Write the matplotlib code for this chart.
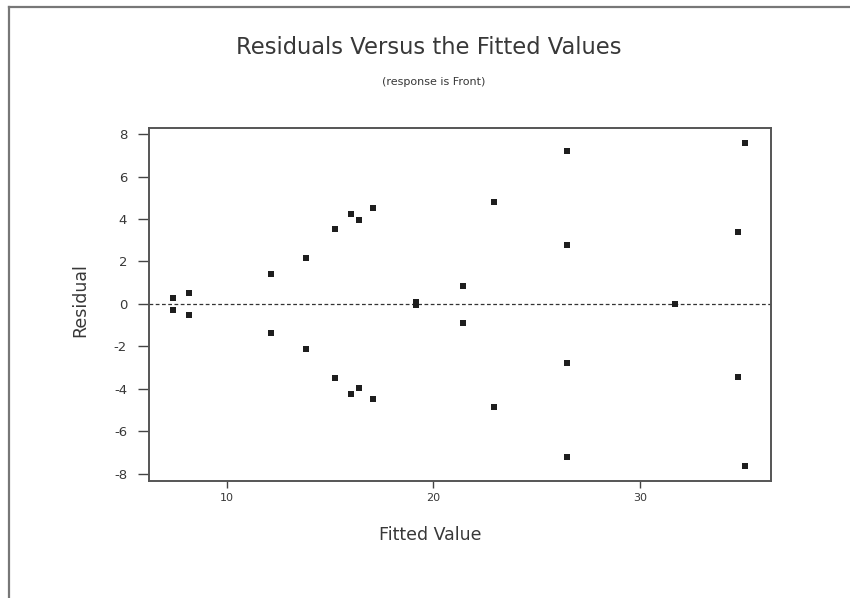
import matplotlib
matplotlib.use("Agg")
import matplotlib.pyplot as plt
from matplotlib.lines import Line2D

# Fitted values and residuals of the regression on "Front"
fitted = [7.42, 7.42, 8.19, 8.19, 12.14, 12.14, 13.84, 13.84,
          15.25, 15.25, 16.01, 16.01, 16.40, 16.40, 17.06, 17.06,
          19.16, 19.16, 21.42, 21.42, 22.95, 22.95, 26.45, 26.45,
          26.48, 26.48, 31.69, 31.69, 34.72, 34.72, 35.09, 35.09]
residual = [0.27, -0.28, 0.53, -0.50, 1.40, -1.38, 2.15, -2.13,
            3.51, -3.50, 4.22, -4.25, 3.95, -3.97, 4.50, -4.47,
            0.07, -0.03, 0.86, -0.91, 4.79, -4.83, 7.20, -7.19,
            2.78, -2.79, 0.02, -0.02, 3.37, -3.42, 7.56, -7.62]

x_ticks = [10, 20, 30]
y_ticks = [-8, -6, -4, -2, 0, 2, 4, 6, 8]

title = "Residuals Versus the Fitted Values"
subtitle = "(response is Front)"
x_label = "Fitted Value"
y_label = "Residual"

text_color = "#383838"
frame_color = "#555555"

fig = plt.figure(figsize=(8.5, 5.98), dpi=100)
fig.patch.set_facecolor("white")

# Outer page border (top and left edges)
fig.add_artist(Line2D([9 / 850, 9 / 850], [0, 1 - 7 / 598], transform=fig.transFigure,
                      color="#777777", lw=1.6))
fig.add_artist(Line2D([9 / 850, 1], [1 - 7 / 598, 1 - 7 / 598], transform=fig.transFigure,
                      color="#777777", lw=1.6))

ax = fig.add_axes([149.3 / 850, 1 - 480.7 / 598, (771 - 149.3) / 850, (480.7 - 128.3) / 598])

ax.axhline(0, color="#333333", lw=0.9, ls=(0, (3, 2)), zorder=1)
ax.plot(fitted, residual, ls="none", marker="s", markersize=3.7,
        color="#1e1e1e", markeredgewidth=0, zorder=3)

ax.set_xlim(6.26, 36.33)
ax.set_ylim(-8.32, 8.27)
ax.set_xticks(x_ticks)
ax.set_yticks(y_ticks)
ax.set_yticklabels([str(v) for v in y_ticks])

for s in ax.spines.values():
    s.set_color(frame_color)
    s.set_linewidth(1.4)

ax.tick_params(axis="y", direction="out", length=8, width=1.0, color="#444444",
               labelsize=9.5, labelcolor=text_color, pad=8)
ax.tick_params(axis="x", direction="out", length=5, width=1.0, color="#444444",
               labelsize=8, labelcolor=text_color, pad=4)

ax.set_xlabel(x_label, fontsize=12.5, color=text_color)
ax.set_ylabel(y_label, fontsize=12.5, color=text_color)
# Label anchors in pixel terms relative to the axes box
ax.xaxis.set_label_coords((430 - 149.3) / (771 - 149.3), -(535 - 480.7) / (480.7 - 128.3))
ax.xaxis.label.set_va("center")
ax.yaxis.set_label_coords(-(149.3 - 80) / (771 - 149.3), (480.7 - 300) / (480.7 - 128.3))
ax.yaxis.label.set_va("center")

fig.text(429 / 850, 1 - 47 / 598, title, ha="center", va="center",
         fontsize=16.3, color=text_color)
fig.text(434 / 850, 1 - 82 / 598, subtitle, ha="center", va="center",
         fontsize=8, color=text_color)

fig.savefig("out.png", dpi=100, facecolor="white")
